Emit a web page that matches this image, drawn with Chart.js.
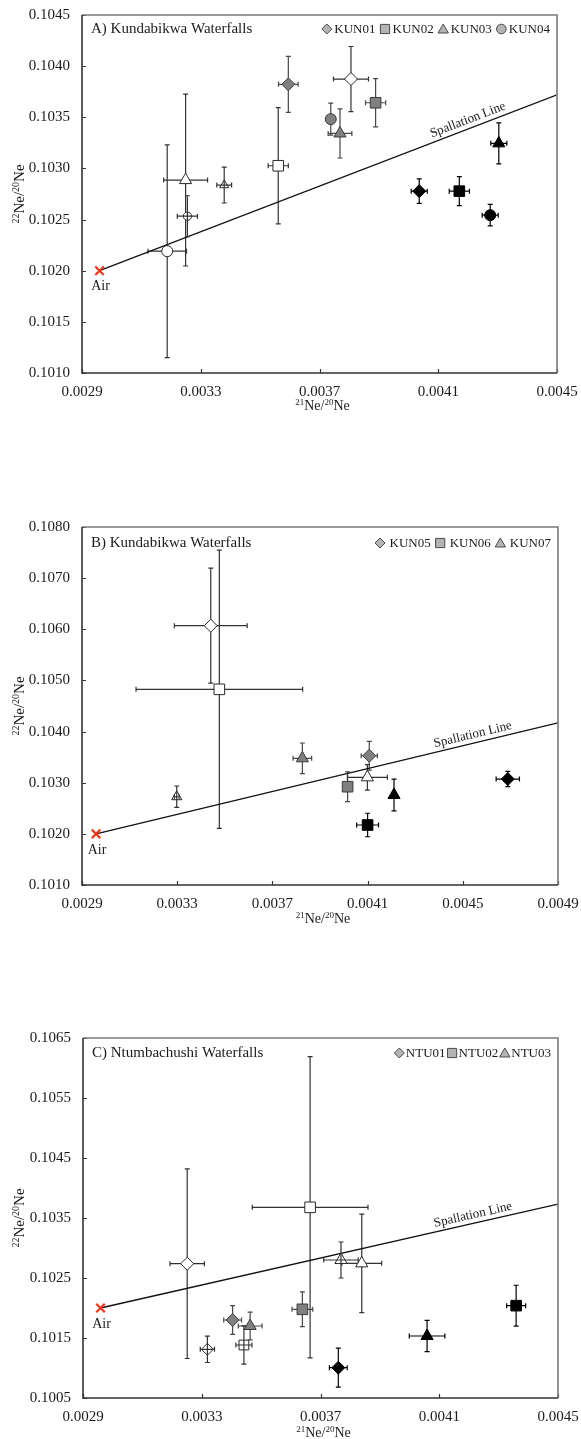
<!DOCTYPE html>
<html>
<head>
<meta charset="utf-8">
<script src="https://cdn.jsdelivr.net/npm/chart.js@4.4.1/dist/chart.umd.min.js"></script>
<style>
  html, body { margin: 0; padding: 0; background: #ffffff; }
  body { width: 581px; height: 1439px; position: relative; overflow: hidden; }
  .panel { position: absolute; left: 0; width: 581px; }
  .panel canvas { display: block; }
</style>
</head>
<body>
<div class="panel" style="top:0px;height:425px"><canvas id="chartA" width="581" height="425"></canvas></div>
<div class="panel" style="top:490px;height:440px"><canvas id="chartB" width="581" height="440"></canvas></div>
<div class="panel" style="top:1000px;height:439px"><canvas id="chartC" width="581" height="439"></canvas></div>
<script>
// ---------------------------------------------------------------
// Neon three-isotope data: 21Ne/20Ne (x) vs 22Ne/20Ne (y), 1-sigma errors.
// Point order within each sample: grey step, white step, black step, extra white step.
// ---------------------------------------------------------------

// Atmospheric neon and the spallation (cosmogenic) line
const AIR_x = 0.002959;
const AIR_y = 0.1020;
const spallA_x = [0.002959, 0.0045];
const spallA_y = [0.1020, 0.10372];
const spallB_x = [0.002959, 0.0049];
const spallB_y = [0.1020, 0.10417];
const spallC_x = [0.002959, 0.0045];
const spallC_y = [0.1020, 0.10373];

// A) Kundabikwa Waterfalls
const panelA_samples = ['KUN01', 'KUN02', 'KUN03', 'KUN04'];
const KUN01_x  = [0.003595, 0.003806, 0.004036];
const KUN01_y  = [0.103822, 0.103874, 0.102778];
const KUN01_dx = [0.000033, 0.000059, 0.000027];
const KUN01_dy = [0.000274, 0.000318, 0.000120];
const KUN02_x  = [0.003889, 0.003561, 0.004171];
const KUN02_y  = [0.103642, 0.103026, 0.102778];
const KUN02_dx = [0.000034, 0.000034, 0.000034];
const KUN02_dy = [0.000236, 0.000568, 0.000142];
const KUN03_x  = [0.003769, 0.003249, 0.004304, 0.003379];
const KUN03_y  = [0.103342, 0.102886, 0.103245, 0.102837];
const KUN03_dx = [0.000040, 0.000074, 0.000027, 0.000025];
const KUN03_dy = [0.000240, 0.000840, 0.000200, 0.000175];
const KUN04_x  = [0.003738, 0.003187, 0.004275, 0.003255];
const KUN04_y  = [0.103482, 0.102191, 0.102543, 0.102533];
const KUN04_dx = [0.000010, 0.000065, 0.000027, 0.000034];
const KUN04_dy = [0.000157, 0.001040, 0.000105, 0.000200];

// B) Kundabikwa Waterfalls
const panelB_samples = ['KUN05', 'KUN06', 'KUN07'];
const KUN05_x  = [0.004107, 0.003441, 0.004689];
const KUN05_y  = [0.103528, 0.106070, 0.103072];
const KUN05_dx = [0.000034, 0.000153, 0.000049];
const KUN05_dy = [0.000280, 0.001124, 0.000150];
const KUN06_x  = [0.004016, 0.003477, 0.004100];
const KUN06_y  = [0.102922, 0.104826, 0.102173];
const KUN06_dx = [0.000010, 0.000350, 0.000046];
const KUN06_dy = [0.000290, 0.002720, 0.000230];
const KUN07_x  = [0.003826, 0.004099, 0.004211, 0.003298];
const KUN07_y  = [0.103477, 0.103105, 0.102760, 0.102726];
const KUN07_dx = [0.000039, 0.000084, 0.000010, 0.000010];
const KUN07_dy = [0.000300, 0.000250, 0.000310, 0.000210];

// C) Ntumbachushi Waterfalls
const panelC_samples = ['NTU01', 'NTU02', 'NTU03'];
const NTU01_x  = [0.003404, 0.003251, 0.003760, 0.003319];
const NTU01_y  = [0.101800, 0.102738, 0.101005, 0.101312];
const NTU01_dx = [0.000030, 0.000058, 0.000030, 0.000024];
const NTU01_dy = [0.000240, 0.001580, 0.000325, 0.000220];
const NTU02_x  = [0.003639, 0.003665, 0.004359, 0.003442];
const NTU02_y  = [0.101978, 0.103678, 0.102039, 0.101383];
const NTU02_dx = [0.000035, 0.000195, 0.000032, 0.000027];
const NTU02_dy = [0.000290, 0.002510, 0.000340, 0.000320];
const NTU03_x  = [0.003463, 0.003839, 0.004059, 0.003769];
const NTU03_y  = [0.101700, 0.102744, 0.101533, 0.102800];
const NTU03_dx = [0.000040, 0.000067, 0.000060, 0.000058];
const NTU03_dy = [0.000230, 0.000820, 0.000260, 0.000300];

// Axis ranges and tick spacing
const panelA_xTicks = [0.0029, 0.0045, 0.0004];
const panelA_yTicks = [0.1010, 0.1045, 0.0005];
const panelB_xTicks = [0.0029, 0.0049, 0.0004];
const panelB_yTicks = [0.1010, 0.1080, 0.0010];
const panelC_xTicks = [0.0029, 0.0045, 0.0004];
const panelC_yTicks = [0.1005, 0.1065, 0.0010];

// ---------------------------------------------------------------
// Styling
// ---------------------------------------------------------------
const SERIF = "'Liberation Serif', 'Times New Roman', serif";
const INK = '#1a1a1a';
const SHAPE = {
  KUN01: 'rectRot', KUN02: 'rect', KUN03: 'triangle', KUN04: 'circle',
  KUN05: 'rectRot', KUN06: 'rect', KUN07: 'triangle',
  NTU01: 'rectRot', NTU02: 'rect', NTU03: 'triangle'
};
const RADIUS = { rectRot: 6.5, rect: 7.5, triangle: 7, circle: 5.5 };
const STEP_FILL = ['#808080', '#ffffff', '#000000', '#ffffff'];
const STEP_EDGE = ['#3a3a3a', '#2a2a2a', '#000000', '#2a2a2a'];
const STEP_BAR  = ['#474747', '#333333', '#000000', '#333333'];

function sampleDataset(name, xs, ys, dxs, dys, extraScale) {
  const shape = SHAPE[name];
  return {
    type: 'scatter',
    label: name,
    data: xs.map((x, i) => ({ x: x, y: ys[i] })),
    errX: dxs,
    errY: dys,
    pointStyle: shape,
    pointRadius: xs.map((_, i) => RADIUS[shape] * (i === 3 ? extraScale : 1)),
    pointHoverRadius: xs.map((_, i) => RADIUS[shape] * (i === 3 ? extraScale : 1)),
    pointBackgroundColor: xs.map((_, i) => STEP_FILL[i]),
    pointBorderColor: xs.map((_, i) => STEP_EDGE[i]),
    pointBorderWidth: 1,
    order: 1
  };
}

function spallationDataset(xs, ys) {
  return {
    type: 'line',
    label: 'Spallation Line',
    data: xs.map((x, i) => ({ x: x, y: ys[i] })),
    borderColor: '#111111',
    borderWidth: 1.3,
    pointRadius: 0,
    pointHoverRadius: 0,
    fill: false,
    order: 5
  };
}

function airDataset() {
  return {
    type: 'scatter',
    label: 'Air',
    data: [{ x: AIR_x, y: AIR_y }],
    pointStyle: 'crossRot',
    pointRadius: 6,
    pointHoverRadius: 6,
    pointBorderColor: '#f0381c',
    pointBackgroundColor: '#f0381c',
    pointBorderWidth: 2.2,
    order: 0
  };
}

// Error bars: drawn under the markers, except the extra step which shows them on top
function drawErrorBars(chart, overlay) {
  const ctx = chart.ctx, sx = chart.scales.x, sy = chart.scales.y;
  chart.data.datasets.forEach(ds => {
    if (!ds.errX) return;
    ds.data.forEach((p, i) => {
      if ((i === 3) !== overlay) return;
      const px = sx.getPixelForValue(p.x), py = sy.getPixelForValue(p.y);
      const x0 = sx.getPixelForValue(p.x - ds.errX[i]), x1 = sx.getPixelForValue(p.x + ds.errX[i]);
      const y0 = sy.getPixelForValue(p.y - ds.errY[i]), y1 = sy.getPixelForValue(p.y + ds.errY[i]);
      const c = 2.5;
      ctx.save();
      ctx.strokeStyle = STEP_BAR[i];
      ctx.lineWidth = 1.2;
      ctx.beginPath();
      ctx.moveTo(x0, py); ctx.lineTo(x1, py);
      ctx.moveTo(px, y0); ctx.lineTo(px, y1);
      ctx.moveTo(x0, py - c); ctx.lineTo(x0, py + c);
      ctx.moveTo(x1, py - c); ctx.lineTo(x1, py + c);
      ctx.moveTo(px - c, y0); ctx.lineTo(px + c, y0);
      ctx.moveTo(px - c, y1); ctx.lineTo(px + c, y1);
      ctx.stroke();
      ctx.restore();
    });
  });
}
const errorBarPlugin = {
  id: 'errorBars',
  beforeDatasetsDraw(chart) { drawErrorBars(chart, false); },
  afterDatasetsDraw(chart) { drawErrorBars(chart, true); }
};

// Writes text made of normal and superscript pieces, centred on (cx, cy)
function drawIsotopeText(ctx, parts, cx, cy, size, angle) {
  const big = size + 'px ' + SERIF, small = Math.round(size * 0.66) + 'px ' + SERIF;
  let total = 0;
  parts.forEach(p => { ctx.font = p[1] ? small : big; total += ctx.measureText(p[0]).width; });
  ctx.save();
  ctx.translate(cx, cy);
  ctx.rotate(angle);
  ctx.fillStyle = INK;
  ctx.textBaseline = 'alphabetic';
  ctx.textAlign = 'left';
  let x = -total / 2;
  const base = size * 0.35;
  parts.forEach(p => {
    ctx.font = p[1] ? small : big;
    ctx.fillText(p[0], x, p[1] ? base - size * 0.38 : base);
    x += ctx.measureText(p[0]).width;
  });
  ctx.restore();
}

// Frame, inward ticks, panel title, legend and labels
const decorPlugin = {
  id: 'panelDecor',
  afterDraw(chart, args, opts) {
    const ctx = chart.ctx, a = chart.chartArea, sx = chart.scales.x, sy = chart.scales.y;
    ctx.save();
    // inward tick marks
    ctx.strokeStyle = '#333333';
    ctx.lineWidth = 1.2;
    ctx.beginPath();
    sx.ticks.forEach(t => {
      const px = Math.round(sx.getPixelForValue(t.value)) + 0.5;
      ctx.moveTo(px, a.bottom); ctx.lineTo(px, a.bottom - 4);
    });
    sy.ticks.forEach(t => {
      const py = Math.round(sy.getPixelForValue(t.value)) + 0.5;
      ctx.moveTo(a.left, py); ctx.lineTo(a.left + 4, py);
    });
    ctx.stroke();
    // plot frame
    ctx.lineWidth = 1.6;
    ctx.strokeStyle = '#7a7a7a';
    ctx.beginPath();
    ctx.moveTo(a.left, a.top); ctx.lineTo(a.right, a.top); ctx.lineTo(a.right, a.bottom);
    ctx.stroke();
    ctx.strokeStyle = '#333333';
    ctx.beginPath();
    ctx.moveTo(a.left, a.top); ctx.lineTo(a.left, a.bottom); ctx.lineTo(a.right, a.bottom);
    ctx.stroke();

    // panel title
    ctx.fillStyle = INK;
    ctx.font = '15px ' + SERIF;
    ctx.textAlign = 'left';
    ctx.textBaseline = 'middle';
    ctx.fillText(opts.title, a.left + 9, a.top + opts.titleDy);

    // legend (grey markers), right aligned
    ctx.font = '13px ' + SERIF;
    const mw = 11;
    const widths = opts.samples.map(s => ctx.measureText(s).width);
    let total = widths.reduce((s, w) => s + mw + opts.gapMarker + w, 0) + opts.gapEntry * (opts.samples.length - 1);
    let x = a.right - 7 - total;
    const ly = a.top + opts.titleDy;
    opts.samples.forEach((s, i) => {
      const shape = SHAPE[s];
      ctx.fillStyle = '#b4b4b4';
      ctx.strokeStyle = '#4a4a4a';
      ctx.lineWidth = 1;
      const r = { rectRot: 5, rect: 6.5, triangle: 6, circle: 4.8 }[shape];
      Chart.helpers.drawPoint(ctx, { pointStyle: shape, radius: r, rotation: 0, borderWidth: 1 }, x + mw / 2, ly + (shape === 'triangle' ? 1 : 0));
      x += mw + opts.gapMarker;
      ctx.fillStyle = INK;
      ctx.textAlign = 'left';
      ctx.fillText(s, x, ly + 0.5);
      x += widths[i] + opts.gapEntry;
    });

    // "Air" label under the atmospheric point
    const ax = sx.getPixelForValue(AIR_x), ay = sy.getPixelForValue(AIR_y);
    ctx.font = '14px ' + SERIF;
    ctx.textAlign = 'center';
    ctx.fillStyle = INK;
    ctx.fillText('Air', ax + 1, ay + 16);

    // label along the spallation line
    const line = chart.data.datasets.find(d => d.label === 'Spallation Line');
    const p0 = { x: sx.getPixelForValue(line.data[0].x), y: sy.getPixelForValue(line.data[0].y) };
    const p1 = { x: sx.getPixelForValue(line.data[1].x), y: sy.getPixelForValue(line.data[1].y) };
    const ang = Math.atan2(p1.y - p0.y, p1.x - p0.x);
    const lx = sx.getPixelForValue(opts.spallLabelX);
    const lyLine = p0.y + (lx - p0.x) * (p1.y - p0.y) / (p1.x - p0.x);
    ctx.save();
    ctx.translate(lx, lyLine);
    ctx.rotate(ang);
    ctx.font = '13px ' + SERIF;
    ctx.textAlign = 'center';
    ctx.textBaseline = 'alphabetic';
    ctx.fillText('Spallation Line', 0, -5);
    ctx.restore();

    // axis titles
    drawIsotopeText(ctx, [['22', true], ['Ne/', false], ['20', true], ['Ne', false]],
      19, (a.top + a.bottom) / 2, 15, -Math.PI / 2);
    drawIsotopeText(ctx, [['21', true], ['Ne/', false], ['20', true], ['Ne', false]],
      (a.left + a.right) / 2 + 3, a.bottom + opts.xTitleDy, 14, 0);
    ctx.restore();
  }
};

function makePanel(id, cfg) {
  const fmt = v => Number(v).toFixed(4);
  return new Chart(document.getElementById(id), {
    type: 'scatter',
    data: { datasets: cfg.datasets },
    plugins: [errorBarPlugin, decorPlugin],
    options: {
      responsive: false,
      animation: false,
      events: [],
      layout: { padding: { top: cfg.padTop, right: cfg.padRight, left: 0, bottom: 0 } },
      plugins: {
        legend: { display: false },
        tooltip: { enabled: false },
        panelDecor: cfg.decor
      },
      scales: {
        x: {
          type: 'linear',
          min: cfg.xTicks[0], max: cfg.xTicks[1],
          ticks: { stepSize: cfg.xTicks[2], callback: fmt, color: INK, padding: 10,
                   font: { family: SERIF, size: 15 }, maxRotation: 0, autoSkip: false },
          grid: { display: false, drawTicks: false },
          border: { display: false },
          afterFit(s) {
            s.height = cfg.xAxisHeight;
            s.paddingLeft = 0; s.paddingRight = 0;
          }
        },
        y: {
          type: 'linear',
          min: cfg.yTicks[0], max: cfg.yTicks[1],
          ticks: { stepSize: cfg.yTicks[2], callback: fmt, color: INK, padding: 12,
                   font: { family: SERIF, size: 15 }, autoSkip: false },
          grid: { display: false, drawTicks: false },
          border: { display: false },
          afterFit(s) {
            s.width = cfg.yAxisWidth;
            s.paddingTop = 0; s.paddingBottom = 0;
          }
        }
      }
    }
  });
}

makePanel('chartA', {
  datasets: [
    airDataset(),
    sampleDataset('KUN01', KUN01_x, KUN01_y, KUN01_dx, KUN01_dy, 0.75),
    sampleDataset('KUN02', KUN02_x, KUN02_y, KUN02_dx, KUN02_dy, 0.75),
    sampleDataset('KUN03', KUN03_x, KUN03_y, KUN03_dx, KUN03_dy, 0.75),
    sampleDataset('KUN04', KUN04_x, KUN04_y, KUN04_dx, KUN04_dy, 0.75),
    spallationDataset(spallA_x, spallA_y)
  ],
  xTicks: panelA_xTicks, yTicks: panelA_yTicks,
  padTop: 15, padRight: 24, xAxisHeight: 52, yAxisWidth: 82,
  decor: { title: 'A) Kundabikwa Waterfalls', titleDy: 14, samples: panelA_samples,
           gapMarker: 2, gapEntry: 4, spallLabelX: 0.00421, xTitleDy: 32 }
});

makePanel('chartB', {
  datasets: [
    airDataset(),
    sampleDataset('KUN05', KUN05_x, KUN05_y, KUN05_dx, KUN05_dy, 0.85),
    sampleDataset('KUN06', KUN06_x, KUN06_y, KUN06_dx, KUN06_dy, 0.85),
    sampleDataset('KUN07', KUN07_x, KUN07_y, KUN07_dx, KUN07_dy, 0.85),
    spallationDataset(spallB_x, spallB_y)
  ],
  xTicks: panelB_xTicks, yTicks: panelB_yTicks,
  padTop: 37, padRight: 23, xAxisHeight: 45, yAxisWidth: 82,
  decor: { title: 'B) Kundabikwa Waterfalls', titleDy: 16, samples: panelB_samples,
           gapMarker: 4, gapEntry: 4, spallLabelX: 0.00455, xTitleDy: 33 }
});

makePanel('chartC', {
  datasets: [
    airDataset(),
    sampleDataset('NTU01', NTU01_x, NTU01_y, NTU01_dx, NTU01_dy, 0.92),
    sampleDataset('NTU02', NTU02_x, NTU02_y, NTU02_dx, NTU02_dy, 0.92),
    sampleDataset('NTU03', NTU03_x, NTU03_y, NTU03_dx, NTU03_dy, 1.0),
    spallationDataset(spallC_x, spallC_y)
  ],
  xTicks: panelC_xTicks, yTicks: panelC_yTicks,
  padTop: 38, padRight: 23, xAxisHeight: 41, yAxisWidth: 83,
  decor: { title: 'C) Ntumbachushi Waterfalls', titleDy: 15, samples: panelC_samples,
           gapMarker: 1, gapEntry: 1, spallLabelX: 0.00422, xTitleDy: 34 }
});
</script>
</body>
</html>
